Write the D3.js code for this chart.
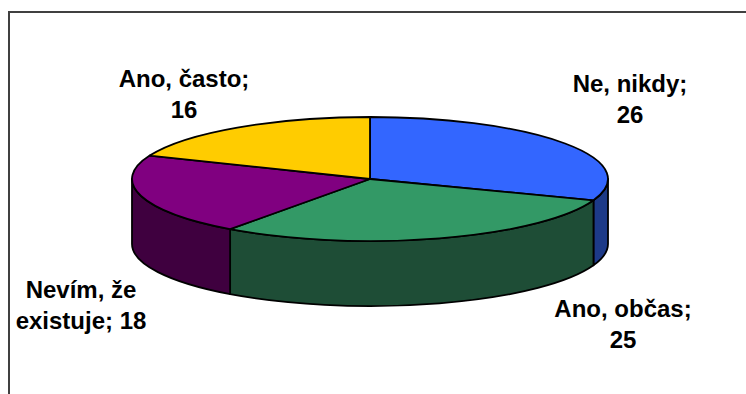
<!DOCTYPE html>
<html>
<head>
<meta charset="utf-8">
<script src="https://cdn.jsdelivr.net/npm/d3@7"></script>
<style>
  html, body { margin: 0; padding: 0; background: #fff; }
  svg { display: block; }
</style>
</head>
<body>
<svg id="chart" width="746" height="394"></svg>
<script>
// ---- data ----
const categories = ["Ne, nikdy", "Ano, občas", "Nevím, že existuje", "Ano, často"];
const values = [26, 25, 18, 16];
const topColors = ["#3366FF", "#339966", "#800080", "#FFCC00"];
const sideColors = ["#1D3A88", "#1E4D36", "#3F003F", "#806600"];

// ---- layout ----
const W = 746, H = 394;
const cx = 370, cy = 179, rx = 238, ry = 62, depth = 65;
const fontSize = 24, lineH = 31, wrapWidth = 140;
// label anchor (center x, first baseline y) per slice, Excel-style placement
const labelAnchors = [[630, 92], [623, 317], [81, 298], [184, 87]];

const svg = d3.select("#chart");

// frame
svg.append("rect")
  .attr("x", 9).attr("y", 12)
  .attr("width", W + 20).attr("height", H + 20)
  .attr("fill", "none").attr("stroke", "#404040").attr("stroke-width", 2);

const pie = d3.pie().sort(null).value(d => d).startAngle(0).endAngle(2 * Math.PI);
const arcs = pie(values);

const px = a => cx + rx * Math.sin(a);
const py = (a, dz = 0) => cy - ry * Math.cos(a) + dz;

function sidePath(s, e) {
  const large = (e - s) > Math.PI ? 1 : 0;
  return `M${px(s)},${py(s)}` +
    `A${rx},${ry} 0 ${large} 1 ${px(e)},${py(e)}` +
    `L${px(e)},${py(e, depth)}` +
    `A${rx},${ry} 0 ${large} 0 ${px(s)},${py(s, depth)}Z`;
}
function topPath(a0, a1) {
  const large = (a1 - a0) > Math.PI ? 1 : 0;
  return `M${cx},${cy}L${px(a0)},${py(a0)}` +
    `A${rx},${ry} 0 ${large} 1 ${px(a1)},${py(a1)}Z`;
}

const gSide = svg.append("g");
arcs.forEach((d, i) => {
  const s = Math.max(d.startAngle, Math.PI / 2);
  const e = Math.min(d.endAngle, 3 * Math.PI / 2);
  if (s < e) {
    gSide.append("path")
      .attr("d", sidePath(s, e))
      .attr("fill", sideColors[i])
      .attr("stroke", "#000").attr("stroke-width", 1.8)
      .attr("stroke-linejoin", "round");
  }
});

const gTop = svg.append("g");
gTop.selectAll("path").data(arcs).join("path")
  .attr("d", d => topPath(d.startAngle, d.endAngle))
  .attr("fill", (d, i) => topColors[i])
  .attr("stroke", "#000").attr("stroke-width", 1.8)
  .attr("stroke-linejoin", "round");

// labels with greedy word wrap
const gLab = svg.append("g")
  .attr("font-family", "'Liberation Sans', Arial, sans-serif")
  .attr("font-weight", "bold")
  .attr("font-size", fontSize)
  .attr("fill", "#000")
  .attr("text-anchor", "middle");

const measurer = gLab.append("text").attr("visibility", "hidden");
function measure(t) { measurer.text(t); return measurer.node().getComputedTextLength(); }

arcs.forEach((d, i) => {
  const words = (categories[i] + "; " + values[i]).split(" ");
  const lines = [];
  let cur = "";
  words.forEach(w => {
    const test = cur ? cur + " " + w : w;
    if (cur && measure(test) > wrapWidth) { lines.push(cur); cur = w; }
    else cur = test;
  });
  if (cur) lines.push(cur);
  const [lx, ly] = labelAnchors[i];
  const t = gLab.append("text").attr("x", lx).attr("y", ly);
  lines.forEach((l, k) => {
    t.append("tspan").attr("x", lx).attr("y", ly + k * lineH).text(l);
  });
});
measurer.remove();
</script>
</body>
</html>
